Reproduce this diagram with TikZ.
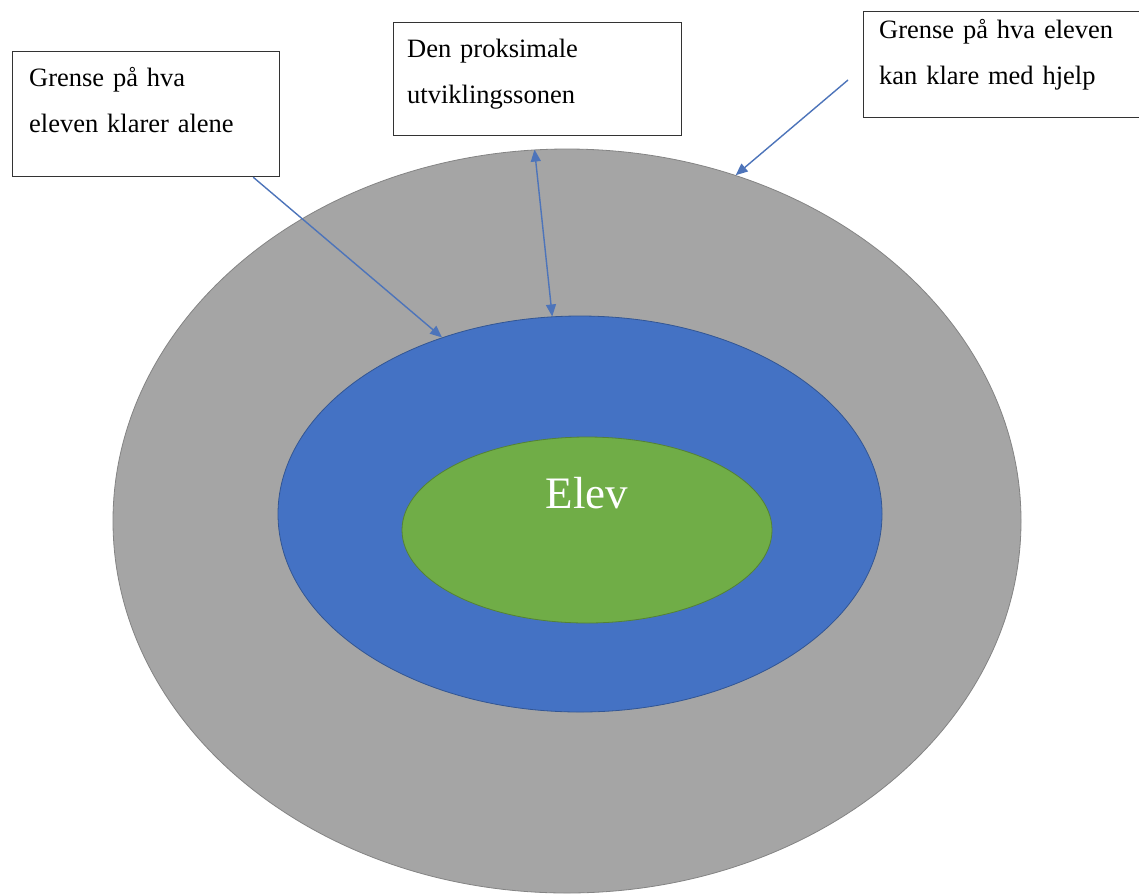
\documentclass[tikz,border=0pt]{standalone}
\usepackage{fontspec}
\setmainfont{Liberation Serif}
\usetikzlibrary{shapes.geometric,arrows.meta}
\definecolor{zonegray}{HTML}{A5A5A5}
\definecolor{zoneblue}{HTML}{4472C4}
\definecolor{zonegreen}{HTML}{70AD47}
\begin{document}
\begin{tikzpicture}[x=1pt,y=-1pt]
  \tikzset{zone/.style={ellipse, inner sep=0pt, line width=0.8pt},
           tagbox/.style={draw=black!80, line width=1.2pt, fill=white, inner sep=0pt},
           tagtext/.style={inner sep=0pt, align=left, text width=270pt,
                           font=\fontsize{26.5}{46}\selectfont},
           pointer/.style={draw=zoneblue!85!gray, line width=1.4pt, -{Triangle[length=12pt,width=10pt]}}}
  \fill[white] (0,0) rectangle (1139,895);
  \useasboundingbox (0,0) rectangle (1139,895);
  % the three zones
  \node[zone, fill=zonegray, draw=zonegray!80!black, minimum width=908pt, minimum height=744pt] (outer) at (567,521) {};
  \node[zone, fill=zoneblue, draw=zoneblue!75!black, minimum width=604pt, minimum height=396pt] (middle) at (580,514) {};
  \node[zone, fill=zonegreen, draw=zonegreen!75!black, minimum width=370pt, minimum height=186pt] (inner) at (587,530) {};
  \node[anchor=base, text=white, font=\fontsize{45}{50}\selectfont] (elev) at (587,508) {Elev};
  % label boxes
  \node[tagbox, anchor=north west, minimum width=267pt, minimum height=125pt] (alone) at (12,51) {};
  \node[tagbox, anchor=north west, minimum width=288pt, minimum height=113pt] (zpd) at (393,22) {};
  \node[tagbox, anchor=north west, minimum width=300pt, minimum height=106pt] (help) at (863,11) {};
  \node[tagtext, anchor=base west] (alonetext) at (29,86) {Grense på hva\\eleven klarer alene};
  \node[tagtext, anchor=base west] (zpdtext) at (407,57) {Den proksimale\\utviklingssonen};
  \node[tagtext, anchor=base west] (helptext) at (879,38) {Grense på hva eleven\\kan klare med hjelp};
  % arrows
  \coordinate (helpfoot) at (848,80);
  \draw[pointer] ([xshift=-27pt]alone.south east) -- (middle.128);
  \draw[pointer, {Triangle[length=12pt,width=10pt]}-{Triangle[length=12pt,width=10pt]}] (outer.95) -- (middle.98);
  \draw[pointer] (helpfoot) -- (outer.64);
\end{tikzpicture}
\end{document}
